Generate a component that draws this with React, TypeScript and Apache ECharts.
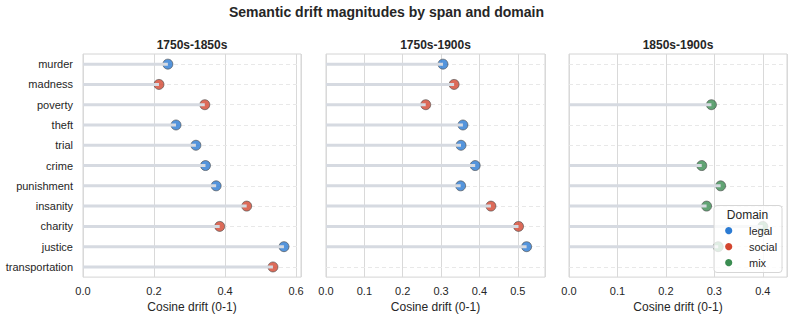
import React, { useEffect, useRef } from "react";
import * as echarts from "echarts";

const words = [
  "murder", "madness", "poverty", "theft", "trial", "crime",
  "punishment", "insanity", "charity", "justice", "transportation",
];

const spans = ["1750s-1850s", "1750s-1900s", "1850s-1900s"];

const values1850: (number | null)[] = [0.239, 0.214, 0.343, 0.262, 0.318, 0.345, 0.375, 0.461, 0.385, 0.566, 0.535];
const values1900: (number | null)[] = [0.305, 0.334, 0.260, 0.357, 0.352, 0.389, 0.351, 0.430, 0.502, 0.523, null];
const values1850to1900: (number | null)[] = [null, null, 0.294, null, null, 0.274, 0.313, 0.284, 0.400, 0.308, null];

const domains1850 = ["legal", "social", "social", "legal", "legal", "legal", "legal", "social", "social", "legal", "social"];
const domains1900 = ["legal", "social", "social", "legal", "legal", "legal", "legal", "social", "social", "legal", "social"];
const domains1850to1900 = ["mix", "mix", "mix", "mix", "mix", "mix", "mix", "mix", "mix", "mix", "mix"];

const domainNames = ["legal", "social", "mix"];
const domainColors = ["#2b7bd3", "#d3462f", "#3b8d52"];

const xMax = [0.614, 0.571, 0.45];
const xInterval = [0.2, 0.1, 0.1];

const FONT = "'Liberation Sans', Arial, Helvetica, sans-serif";

export default function App() {
  const ref = useRef<HTMLDivElement>(null);
  useEffect(() => {
    if (!ref.current) return;
    const chart = echarts.init(ref.current, null, { renderer: "svg" });
    const allValues = [values1850, values1900, values1850to1900];
    const allDomains = [domains1850, domains1900, domains1850to1900];
    const gridLefts = [83, 326, 569];
    const gridWidths = [218, 219, 218];
    const top = 54;
    const height = 225;

    const grids = gridLefts.map((l, i) => ({
      left: l,
      top,
      width: gridWidths[i],
      height,
      show: true,
      borderColor: "#d4d4d4",
      borderWidth: 1,
      backgroundColor: "transparent",
    }));

    const xAxes = gridLefts.map((_, i) => ({
      type: "value",
      gridIndex: i,
      min: 0,
      max: xMax[i],
      interval: xInterval[i],
      name: "Cosine drift (0-1)",
      nameLocation: "middle",
      nameGap: 22,
      nameTextStyle: { fontSize: 12, color: "#262626", fontFamily: FONT },
      axisLine: { show: false },
      axisTick: { show: false },
      axisLabel: {
        fontSize: 11,
        color: "#262626",
        fontFamily: FONT,
        margin: 8,
        showMaxLabel: false,
        formatter: (v: number) => v.toFixed(1),
      },
      splitLine: { show: true, lineStyle: { color: "#d9d9d9", width: 1 } },
    }));

    const yAxes = gridLefts.map((_, i) => ({
      type: "category",
      gridIndex: i,
      data: words,
      inverse: true,
      axisLine: { show: false },
      axisTick: { show: false },
      axisLabel: {
        show: i === 0,
        fontSize: 11,
        color: "#262626",
        fontFamily: FONT,
        margin: 10,
      },
      splitLine: { show: false },
    }));

    const series: any[] = [];
    allValues.forEach((vals, p) => {
      // dashed row guides
      series.push({
        type: "line",
        xAxisIndex: p,
        yAxisIndex: p,
        data: words.map(() => "-"),
        silent: true,
        z: 1,
        zlevel: 0,
        symbol: "none",
        markLine: {
          silent: true,
          z: 1,
          symbol: ["none", "none"],
          label: { show: false },
          lineStyle: { type: [4, 3], color: "#e8e8e8", width: 1 },
          data: words.map((w) => ({ yAxis: w })),
        },
      });
      // stems
      series.push({
        type: "bar",
        xAxisIndex: p,
        yAxisIndex: p,
        barWidth: 3,
        z: 4,
        silent: true,
        itemStyle: { color: "#d6dae1" },
        data: vals.map((v) => (v == null ? "-" : v)),
      });
      // markers by domain
      domainNames.forEach((d, di) => {
        const pts = words
          .map((w, i) => (allDomains[p][i] === d && vals[i] != null ? [vals[i], w] : null))
          .filter((x) => x !== null);
        series.push({
          type: "scatter",
          name: d,
          xAxisIndex: p,
          yAxisIndex: p,
          symbol: "circle",
          symbolSize: 10,
          z: 3,
          itemStyle: { color: domainColors[di], borderColor: "#4a4a4a", borderWidth: 0.8 },
          data: pts,
        });
      });
    });

    const panelCenters = gridLefts.map((l, i) => l + gridWidths[i] / 2);

    const graphic: any[] = [
      {
        type: "text",
        x: 386.5,
        y: 12,
        style: {
          text: "Semantic drift magnitudes by span and domain",
          fontSize: 14,
          fontWeight: "bold",
          fontFamily: FONT,
          fill: "#262626",
          textAlign: "center",
          textVerticalAlign: "middle",
        },
      },
      ...spans.map((s, i) => ({
        type: "text",
        x: panelCenters[i],
        y: 45,
        style: {
          text: s,
          fontSize: 12,
          fontWeight: "bold",
          fontFamily: FONT,
          fill: "#262626",
          textAlign: "center",
          textVerticalAlign: "middle",
        },
      })),
      {
        type: "rect",
        z: 100,
        shape: { x: 714, y: 205.5, width: 68, height: 67, r: 3 },
        style: { fill: "rgba(255,255,255,0.8)", stroke: "#d6d6d6", lineWidth: 1 },
      },
      {
        type: "text",
        z: 101,
        x: 747.5,
        y: 214.5,
        style: {
          text: "Domain",
          fontSize: 12,
          fontFamily: FONT,
          fill: "#262626",
          textAlign: "center",
          textVerticalAlign: "middle",
        },
      },
      ...domainNames.flatMap((d, i) => [
        {
          type: "circle",
          z: 101,
          shape: { cx: 728.7, cy: 230.7 + i * 16, r: 3.6 },
          style: { fill: domainColors[i] },
        },
        {
          type: "text",
          z: 101,
          x: 749,
          y: 230.7 + i * 16,
          style: {
            text: d,
            fontSize: 11,
            fontFamily: FONT,
            fill: "#262626",
            textAlign: "left",
            textVerticalAlign: "middle",
          },
        },
      ]),
    ];

    chart.setOption({
      animation: false,
      backgroundColor: "#ffffff",
      textStyle: { fontFamily: FONT },
      grid: grids,
      xAxis: xAxes,
      yAxis: yAxes,
      series,
      graphic,
    });
    return () => chart.dispose();
  }, []);
  return (
    <div
      ref={ref}
      style={{ position: "fixed", left: 0, top: 0, width: 793, height: 318 }}
    />
  );
}
